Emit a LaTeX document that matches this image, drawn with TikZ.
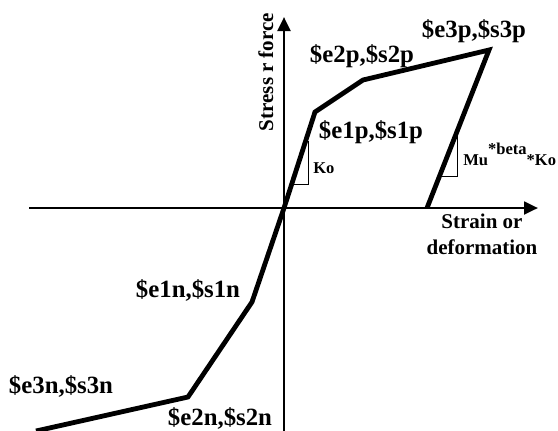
\documentclass[tikz,border=0pt]{standalone}
\usepackage{fontspec}
\setmainfont{Liberation Serif}
\usetikzlibrary{arrows.meta,positioning,calc}

\begin{document}
\begin{tikzpicture}[x=0.75pt,y=-0.75pt,
  axis/.style={line width=2.1pt,-{Triangle[length=10.5pt,width=9.5pt]}},
  backbone/.style={line width=3.6pt},
  ptlabel/.style={font=\fontsize{18.6}{20}\selectfont\bfseries,anchor=base,inner sep=0pt},
  axlabel/.style={font=\fontsize{15.75}{19}\selectfont\bfseries,align=center,inner sep=0pt},
  slope/.style={line width=0.75pt},
  slopelabel/.style={font=\fontsize{12.4}{14}\selectfont\bfseries,anchor=base west,inner sep=0pt}]
  \useasboundingbox (0,0) rectangle (558,430);
  % axes
  \coordinate (o) at (284,208);
  \coordinate (xl) at (29,208); \coordinate (xr) at (538,208);
  \coordinate (yb) at (284,432); \coordinate (yt) at (284,17);
  \draw[axis] (xl) -- (xr);
  \draw[axis] (yb) -- (yt);
  % backbone and unloading branch
  \foreach \n/\x/\y in {e3n/36/431,e2n/188/397,e1n/252/302,e1p/315/112,e2p/363/80,e3p/489/50,un/427/208}
    \coordinate (\n) at (\x,\y);
  \draw[backbone] (e3n) -- (e2n) -- (e1n) -- (o) -- (e1p) -- (e2p) -- (e3p) -- (un);
  % slope marks
  \coordinate (ka) at (292,184); \coordinate (kb) at (308,141);
  \coordinate (ma) at (440,176); \coordinate (mb) at (457,136);
  \draw[slope] (ka) -| (kb);
  \draw[slope] (ma) -| (mb);
  \node[slopelabel] (ko) at (313,173) {Ko};
  \node[slopelabel] (mu) at (463,165) {Mu\raisebox{0.65em}{*beta}*Ko};
  % point labels
  \node[ptlabel] (l3p) at (474,37) {\$e3p,\$s3p};
  \node[ptlabel] (l2p) at (362,62) {\$e2p,\$s2p};
  \node[ptlabel] (l1p) at (371,138) {\$e1p,\$s1p};
  \node[ptlabel] (l1n) at (188,297) {\$e1n,\$s1n};
  \node[ptlabel] (l3n) at (61,393) {\$e3n,\$s3n};
  \node[ptlabel] (l2n) at (220,425) {\$e2n,\$s2n};
  % axis labels
  \node[axlabel,anchor=north] (xlab) at (482,214) {Strain or\\deformation};
  \node[axlabel,anchor=base,rotate=90] (ylab) at (273,72) {Stress r force};
\end{tikzpicture}
\end{document}
